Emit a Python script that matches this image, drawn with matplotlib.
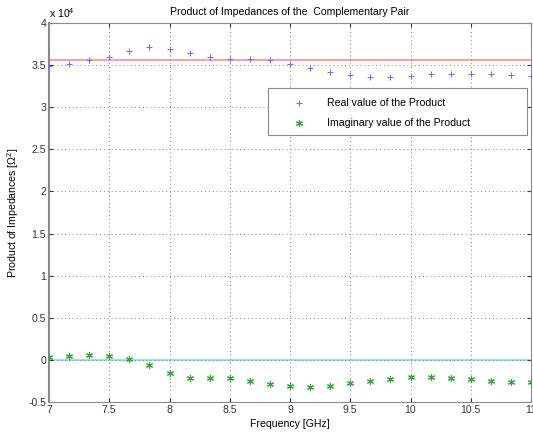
import numpy as np
import matplotlib
matplotlib.use("Agg")
import matplotlib.pyplot as plt
from matplotlib.patches import Rectangle

plt.rcParams['font.family'] = ['Liberation Sans', 'DejaVu Sans']
plt.rcParams['mathtext.fontset'] = 'custom'
plt.rcParams['mathtext.rm'] = 'Liberation Sans'
plt.rcParams['mathtext.it'] = 'Liberation Sans'

# Frequency points (GHz)
freq = 7 + np.arange(25) / 6.0

# Real part of the impedance product
real_part = [34900, 35100, 35600, 36000, 36700, 37100, 36900, 36400, 35950,
             35750, 35750, 35600, 35100, 34600, 34200, 33800, 33600, 33600,
             33700, 33900, 34000, 34000, 33900, 33800, 33700]

# Imaginary part of the impedance product
imag_part = [300, 510, 590, 510, 120, -590, -1580, -2140, -2180, -2100,
             -2460, -2850, -3090, -3170, -3050, -2770, -2490, -2260,
             -2060, -2020, -2140, -2290, -2490, -2570, -2570]

ref_real = 35600
ref_imag = 0

FS = 7.6
W, H = 533, 434
fig = plt.figure(figsize=(W / 100, H / 100), dpi=100)
ax = fig.add_axes([49 / W, 1 - 402 / H, 482 / W, 379 / H])

ax.axhline(ref_real / 1e4, color='#ff8c8c', lw=1.2, zorder=1)
ax.axhline(ref_imag / 1e4, color='#7fe3dc', lw=1.2, zorder=1)

ax.plot(freq, np.array(real_part) / 1e4, ls='none', marker='+', ms=5, mew=0.7,
        color='#6a6aff', label='Real value of the Product', zorder=3)
ax.plot(freq, np.array(imag_part) / 1e4, ls='none', marker=(6, 2, 0), ms=5, mew=0.8,
        color='#36a336', label='Imaginary value of the Product', zorder=3)

ax.set_xlim(7, 11)
ax.set_ylim(-0.5, 4)
ax.set_xticks([7, 7.5, 8, 8.5, 9, 9.5, 10, 10.5, 11])
ax.set_xticklabels(['7', '7.5', '8', '8.5', '9', '9.5', '10', '10.5', '11'])
ax.set_yticks(np.arange(-0.5, 4.01, 0.5))
ax.set_yticklabels(['-0.5', '0', '0.5', '1', '1.5', '2', '2.5', '3', '3.5', '4'])

ax.grid(True, ls=(0, (1, 3)), color='#808080', lw=0.7)
ax.tick_params(direction='in', length=3, labelsize=FS, colors='#333333',
               top=True, right=True, pad=2)
for s in ax.spines.values():
    s.set_color('#8a8a8a')
    s.set_linewidth(0.8)
ax.spines['left'].set_linewidth(1.5)

ax.set_title('Product of Impedances of the  Complementary Pair', fontsize=FS, pad=6)
ax.set_xlabel('Frequency [GHz]', fontsize=FS, labelpad=3)
ax.set_ylabel(r'Product of Impedances [$\Omega^2$]', fontsize=FS, labelpad=5)
ax.text(0.0, 1.008, r'x 10$^4$', transform=ax.transAxes, fontsize=FS, ha='left', va='bottom')

# Legend frame placed in figure pixels, with the entries drawn on top of it
lx0, lx1, ly0, ly1 = 268, 527, 88, 135
frame = Rectangle((lx0 / W, 1 - ly1 / H), (lx1 - lx0) / W, (ly1 - ly0) / H,
                  transform=fig.transFigure, facecolor='white',
                  edgecolor='#8a8a8a', lw=0.8, zorder=4, clip_on=False)
ax.add_artist(frame)
leg = ax.legend(loc='upper left', bbox_to_anchor=((lx0 + 15) / W, 1 - (ly0 + 5) / H),
                bbox_transform=fig.transFigure, fontsize=FS, frameon=False,
                borderpad=0.5, labelspacing=0.95, handlelength=2.0,
                handletextpad=1.7, borderaxespad=0)
leg.set_zorder(5)

fig.savefig('out.png', dpi=100)
